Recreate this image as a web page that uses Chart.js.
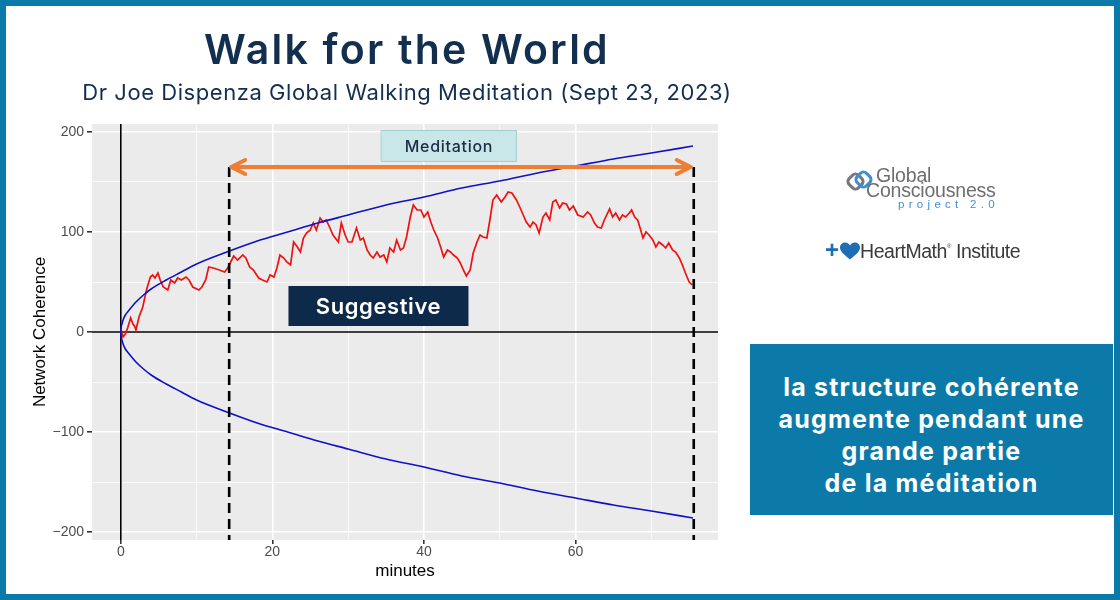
<!DOCTYPE html>
<html>
<head>
<meta charset="utf-8">
<script src="https://cdn.jsdelivr.net/npm/chart.js"></script>
<style>
  html, body { margin: 0; padding: 0; background: #fff; }
  #page { position: relative; width: 1120px; height: 600px; overflow: hidden; background: #fff; }
  #frame { position: absolute; left: 0; top: 0; width: 1108px; height: 588px; border: 6px solid #0b7aa8; pointer-events: none; }
  #chart { position: absolute; left: 0; top: 0; }
  .title { position: absolute; left: 0; width: 814px; text-align: center; color: #122f50; font-family: Inter, "Open Sans", sans-serif; white-space: nowrap; }
  #t1 { top: 24px; font-size: 41px; font-weight: 600; letter-spacing: 2.2px; }
  #t2 { top: 79px; font-size: 22px; font-weight: 400; letter-spacing: 0.55px; }
  #gcp { position: absolute; left: 846px; top: 164px; width: 170px; height: 50px; font-family: "Liberation Sans", Arial, sans-serif; }
  #gcp .g1 { position: absolute; left: 30px; top: 0px; font-size: 19.5px; color: #6e6e6e; letter-spacing: -0.2px; }
  #gcp .g2 { position: absolute; left: 20px; top: 15px; font-size: 19.5px; color: #6e6e6e; letter-spacing: -0.2px; }
  #gcp .g3 { position: absolute; left: 52px; top: 34px; font-size: 11.5px; color: #3c8fd6; letter-spacing: 4.3px; white-space: nowrap; }
  #hm { position: absolute; left: 824px; top: 239px; width: 220px; height: 26px; font-family: "Liberation Sans", Arial, sans-serif; }
  #hm .plus { position: absolute; left: 1px; top: -3px; font-size: 24px; color: #1e6db5; font-weight: 700; }
  #hm .txt { position: absolute; left: 36px; top: 1px; font-size: 19.5px; color: #3a3a3a; letter-spacing: -0.45px; white-space: nowrap; }
  #hm sup { font-size: 6px; vertical-align: 10px; }
  #note { position: absolute; left: 750px; top: 344px; width: 363px; height: 171px; background: #0b7aa8; color: #fff;
          font-family: Inter, "Open Sans", sans-serif; font-weight: 700; font-size: 25px; letter-spacing: 1.2px; line-height: 32px; text-align: center;
          display: flex; align-items: center; justify-content: center; white-space: nowrap; }
  #note div { margin-top: 10px; }
</style>
</head>
<body>
<div id="page">
  <canvas id="chart" width="1120" height="600"></canvas>
  <div class="title" id="t1">Walk for the World</div>
  <div class="title" id="t2">Dr Joe Dispenza Global Walking Meditation (Sept 23, 2023)</div>
  <div id="gcp">
    <svg width="30" height="32" style="position:absolute;left:0;top:2px" viewBox="0 0 30 32">
      <rect x="3" y="9" width="13" height="13" rx="4" transform="rotate(45 9.5 15.5)" fill="none" stroke="#777" stroke-width="3"/>
      <rect x="11" y="7" width="13" height="13" rx="4" transform="rotate(45 17.5 13.5)" fill="none" stroke="#3a8fd8" stroke-width="3"/>
    </svg>
    <div class="g1">Global</div>
    <div class="g2">Consciousness</div>
    <div class="g3">project 2.0</div>
  </div>
  <div id="hm">
    <div class="plus">+</div>
    <svg width="20" height="19" style="position:absolute;left:16px;top:3px" viewBox="0 0 20 18">
      <path d="M10 17 C4 12 0 9 0 5 C0 2 2.5 0 5 0 C7 0 9 1.2 10 3 C11 1.2 13 0 15 0 C17.5 0 20 2 20 5 C20 9 16 12 10 17 Z" fill="#1e6db5"/>
    </svg>
    <div class="txt">HeartMath<sup>®</sup> Institute</div>
  </div>
  <div id="note"><div>la structure cohérente<br>augmente pendant une<br>grande partie<br>de la méditation</div></div>
  <div id="frame"></div>
</div>
<script>
// coherence walk (minutes, value)
const minutes = [0, 0.3, 0.6, 0.9, 1.3, 1.6, 1.8, 2.0, 2.4, 2.9, 3.3, 3.5, 3.9, 4.2, 4.5, 4.9, 5.2, 5.6, 6.2, 6.6,
  7.1, 7.5, 8.0, 8.6, 9.0, 9.5, 10.3, 10.7, 11.2, 11.6, 12.2, 13.0, 13.7, 14.1, 14.5, 14.9, 15.4, 16.1, 16.5, 17.0,
  17.5, 18.2, 18.7, 19.3, 19.7, 20.2, 20.6, 21.0, 21.5, 21.9, 22.4, 22.8, 23.3, 23.7, 24.1, 24.5, 25.0, 25.4, 25.8, 26.3,
  26.7, 27.1, 27.6, 28.0, 28.7, 29.1, 29.6, 30.0, 30.5, 31.1, 31.6, 32.0, 32.5, 32.9, 33.3, 33.8, 34.2, 34.7, 35.1, 35.5,
  36.0, 36.4, 36.9, 37.3, 37.7, 38.2, 38.6, 39.1, 39.6, 40.0, 40.5, 40.9, 41.3, 41.8, 42.2, 42.6, 43.1, 43.5, 43.9, 44.4,
  44.8, 45.2, 45.6, 46.1, 46.5, 47.0, 47.4, 47.8, 48.3, 48.7, 49.1, 49.6, 50.2, 50.7, 51.1, 51.6, 52.2, 52.7, 53.1, 53.5,
  54.0, 54.4, 54.8, 55.2, 55.7, 56.1, 56.6, 57.0, 57.4, 57.9, 58.3, 58.8, 59.2, 59.7, 60.3, 61.0, 61.6, 62.0, 62.5, 62.9,
  63.4, 63.8, 64.5, 64.9, 65.3, 65.8, 66.2, 66.6, 67.1, 67.4, 67.8, 68.2, 68.6, 68.9, 69.3, 69.7, 70.2, 70.6, 71.0, 71.5,
  71.9, 72.3, 72.8, 73.2, 73.7, 74.1, 74.5, 75.0, 75.4];
const coherence = [3, -5, -2, 4, 14, 8, 6, 2, 15, 25, 39, 45, 55, 57, 54, 59, 52, 45, 42, 52,
  49, 54, 52, 55, 52, 45, 42, 45, 52, 65, 64, 62, 60, 64, 70, 76, 72, 77, 74, 65,
  62, 54, 52, 50, 57, 55, 64, 77, 74, 70, 67, 90, 85, 80, 94, 99, 102, 109, 102, 114,
  110, 112, 104, 97, 90, 109, 97, 90, 90, 104, 92, 94, 82, 77, 74, 80, 75, 77, 70, 84,
  80, 92, 82, 84, 95, 115, 127, 122, 122, 115, 120, 110, 102, 94, 85, 75, 82, 80, 77, 74,
  69, 62, 56, 62, 79, 90, 97, 95, 94, 112, 132, 137, 130, 135, 140, 139, 132, 124, 117, 110,
  105, 110, 107, 99, 115, 119, 112, 130, 132, 124, 129, 128, 122, 126, 117, 115, 120, 117, 109, 105,
  104, 112, 123, 115, 119, 112, 117, 115, 119, 122, 115, 112, 102, 94, 100, 97, 92, 85, 90, 87,
  84, 89, 82, 80, 74, 67, 59, 50, 47];

// significance envelope (blue curves)
const envMinutes = [0, 0.05, 0.15, 0.3, 0.6, 1, 2, 3, 4, 6, 8, 10, 14, 18, 22, 26, 30, 35, 40, 45, 50, 55, 60, 65, 70, 75.5];
const envUpper = [0, 5, 8, 12, 17, 21, 30, 37, 43, 52, 60, 68, 80, 91, 100, 109, 117, 127, 135, 144, 151, 159, 166, 173, 179, 186];
const envLower = [0, -5, -8, -12, -17, -21, -30, -37, -43, -52, -60, -68, -80, -91, -100, -109, -117, -127, -135, -144, -151, -159, -166, -173, -179, -186];

// meditation window
const meditation = [14.3, 75.6];
const arrowLevel = 165;

// axis ticks
const xMajor = [0, 20, 40, 60];
const xMinor = [10, 30, 50, 70];
const yMajor = [-200, -100, 0, 100, 200];
const yMinor = [-150, -50, 50, 150];

const xy = (xs, ys) => xs.map((x, i) => ({ x: x, y: ys[i] }));
const dashed = x => [{ x: x, y: arrowLevel }, { x: x, y: -208 }];
const axisFont = '"Liberation Sans", Arial, sans-serif';

const panelPlugin = {
  id: 'panel',
  beforeDraw(chart) {
    const { ctx, chartArea: a } = chart;
    ctx.save();
    ctx.fillStyle = '#ebebeb';
    ctx.fillRect(a.left, a.top, a.right - a.left, a.bottom - a.top);
    ctx.restore();
  },
  beforeDatasetsDraw(chart) {
    const { ctx, chartArea: a, scales } = chart;
    const x0 = scales.x.getPixelForValue(0), y0 = scales.y.getPixelForValue(0);
    ctx.save();
    ctx.strokeStyle = '#000';
    ctx.lineWidth = 1.6;
    ctx.beginPath();
    ctx.moveTo(a.left, y0); ctx.lineTo(a.right, y0);
    ctx.moveTo(x0, a.top); ctx.lineTo(x0, a.bottom);
    ctx.stroke();
    ctx.restore();
  },
  afterDatasetsDraw(chart) {
    const { ctx, scales } = chart;
    const xa = scales.x.getPixelForValue(meditation[0]);
    const xb = scales.x.getPixelForValue(meditation[1]);
    const ya = scales.y.getPixelForValue(arrowLevel);
    ctx.save();
    // orange double arrow
    ctx.strokeStyle = '#ec7f35';
    ctx.lineWidth = 4;
    ctx.lineCap = 'round';
    ctx.lineJoin = 'round';
    ctx.beginPath();
    ctx.moveTo(xa + 2, ya); ctx.lineTo(xb - 3, ya);
    ctx.moveTo(xa + 16, ya - 7); ctx.lineTo(xa + 2, ya); ctx.lineTo(xa + 16, ya + 7);
    ctx.moveTo(xb - 17, ya - 7); ctx.lineTo(xb - 3, ya); ctx.lineTo(xb - 17, ya + 7);
    ctx.stroke();
    // Meditation label
    const mx = scales.x.getPixelForValue(43.3), my = scales.y.getPixelForValue(186);
    ctx.fillStyle = '#c9e6e8';
    ctx.strokeStyle = '#9fcfd3';
    ctx.lineWidth = 1;
    ctx.fillRect(mx - 67, my - 15, 134, 30);
    ctx.strokeRect(mx - 67.5, my - 15.5, 135, 31);
    ctx.fillStyle = '#1c2c45';
    ctx.font = '500 16px Inter, "Open Sans", sans-serif';
    ctx.letterSpacing = '0.7px';
    ctx.textAlign = 'center';
    ctx.textBaseline = 'middle';
    ctx.fillText('Meditation', mx, my + 1);
    // Suggestive label
    const sx = scales.x.getPixelForValue(34.0), sy = scales.y.getPixelForValue(26);
    ctx.fillStyle = '#0d2a4b';
    ctx.fillRect(sx - 90, sy - 20, 180, 40);
    ctx.fillStyle = '#fff';
    ctx.font = '600 22px Inter, "Open Sans", sans-serif';
    ctx.letterSpacing = '0.6px';
    ctx.fillText('Suggestive', sx, sy + 1);
    ctx.restore();
  }
};

new Chart(document.getElementById('chart'), {
  type: 'line',
  data: {
    datasets: [
      { data: xy(minutes, coherence), borderColor: '#ee1111', borderWidth: 1.7, pointRadius: 0, order: 3 },
      { data: xy(envMinutes, envUpper), borderColor: '#1010c8', borderWidth: 1.6, pointRadius: 0, cubicInterpolationMode: 'monotone', order: 2 },
      { data: xy(envMinutes, envLower), borderColor: '#1010c8', borderWidth: 1.6, pointRadius: 0, cubicInterpolationMode: 'monotone', order: 2 },
      { data: dashed(meditation[0]), borderColor: '#000', borderWidth: 2.6, borderDash: [10, 6], pointRadius: 0, order: 1 },
      { data: dashed(meditation[1]), borderColor: '#000', borderWidth: 2.6, borderDash: [10, 6], pointRadius: 0, order: 1 }
    ]
  },
  options: {
    responsive: false,
    animation: false,
    devicePixelRatio: 1,
    layout: { padding: { left: 30, top: 124, right: 402, bottom: 18 } },
    plugins: { legend: { display: false }, tooltip: { enabled: false } },
    scales: {
      x: {
        type: 'linear', min: -3.8, max: 78.8,
        afterBuildTicks: s => { s.ticks = xMajor.concat(xMinor).sort((a, b) => a - b).map(v => ({ value: v })); },
        afterFit: s => { s.height = 42; },
        ticks: { color: '#4d4d4d', font: { family: axisFont, size: 14 }, padding: 0,
                 autoSkip: false, maxRotation: 0, callback: v => xMajor.includes(v) ? String(v) : '' },
        grid: { color: '#fff', lineWidth: c => xMajor.includes(c.tick.value) ? 1.6 : 0.7, tickLength: 4,
                tickColor: c => xMajor.includes(c.tick.value) ? '#333' : 'rgba(0,0,0,0)' },
        border: { display: false },
        title: { display: true, text: 'minutes', color: '#000', font: { family: axisFont, size: 17 }, padding: 0 }
      },
      y: {
        type: 'linear', min: -208, max: 208,
        afterBuildTicks: s => { s.ticks = yMajor.concat(yMinor).sort((a, b) => a - b).map(v => ({ value: v })); },
        afterFit: s => { s.width = 62; },
        ticks: { color: '#4d4d4d', font: { family: axisFont, size: 14 }, padding: 3,
                 autoSkip: false, callback: v => yMajor.includes(v) ? String(v).replace('-', '\u2212') : '' },
        grid: { color: '#fff', lineWidth: c => yMajor.includes(c.tick.value) ? 1.6 : 0.7, tickLength: 5,
                tickColor: c => yMajor.includes(c.tick.value) ? '#333' : 'rgba(0,0,0,0)' },
        border: { display: false },
        title: { display: true, text: 'Network Coherence', color: '#000', font: { family: axisFont, size: 17 }, padding: 0 }
      }
    }
  },
  plugins: [panelPlugin]
});
</script>
</body>
</html>
